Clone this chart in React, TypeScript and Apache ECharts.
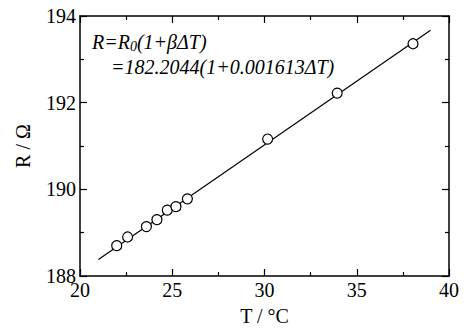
import React, { useEffect, useRef } from "react";
import * as echarts from "echarts";

const tempT = [21.99, 22.58, 23.6, 24.17, 24.73, 25.2, 25.82, 30.17, 33.94, 38.05];
const resistR = [188.7, 188.9, 189.14, 189.3, 189.52, 189.6, 189.78, 191.16, 192.22, 193.36];
const fitT = [21, 39];
const fitR = [188.38, 193.67];
const xTicks = { min: 20, max: 40, interval: 5 };
const yTicks = { min: 188, max: 194, interval: 2 };

const FONT = "Liberation Serif, serif";

export default function App() {
  const ref = useRef<HTMLDivElement>(null);
  useEffect(() => {
    document.body.style.margin = "0";
    if (!ref.current) return;
    const chart = echarts.init(ref.current, undefined, { renderer: "svg" });
    const axisLine = { show: true, lineStyle: { color: "#000", width: 1.5 } };
    const tick = { show: true, inside: true, length: 7, lineStyle: { color: "#000", width: 1.2 } };
    const minor = { show: true, splitNumber: 2, length: 4, lineStyle: { color: "#000", width: 1.2 } };
    const baseX = {
      type: "value" as const,
      min: xTicks.min,
      max: xTicks.max,
      interval: xTicks.interval,
      axisLine,
      axisTick: tick,
      minorTick: minor,
      splitLine: { show: false },
    };
    const baseY = {
      type: "value" as const,
      min: yTicks.min,
      max: yTicks.max,
      interval: yTicks.interval,
      axisLine,
      axisTick: tick,
      minorTick: minor,
      splitLine: { show: false },
    };
    chart.setOption({
      animation: false,
      grid: { left: 80, right: 15, top: 16, bottom: 51 },
      xAxis: [
        {
          ...baseX,
          position: "bottom",
          axisLabel: { color: "#000", fontFamily: FONT, fontSize: 20, margin: 4 },
          name: "T / °C",
          nameLocation: "middle",
          nameGap: 30,
          nameTextStyle: { color: "#000", fontFamily: FONT, fontSize: 20 },
        },
        { ...baseX, position: "top", axisLabel: { show: false } },
      ],
      yAxis: [
        {
          ...baseY,
          position: "left",
          axisLabel: { color: "#000", fontFamily: FONT, fontSize: 20, margin: 4 },
          name: "R / Ω",
          nameLocation: "middle",
          nameGap: 47,
          nameTextStyle: { color: "#000", fontFamily: FONT, fontSize: 20 },
        },
        { ...baseY, position: "right", axisLabel: { show: false } },
      ],
      series: [
        {
          type: "line",
          data: fitT.map((t, i) => [t, fitR[i]]),
          showSymbol: false,
          lineStyle: { color: "#000", width: 1.2 },
          z: 2,
        },
        {
          type: "scatter",
          data: tempT.map((t, i) => [t, resistR[i]]),
          symbol: "circle",
          symbolSize: 10,
          itemStyle: { color: "#fff", borderColor: "#000", borderWidth: 1.2, opacity: 1 },
          z: 3,
        },
      ],
      graphic: [
        {
          type: "text",
          left: 92,
          top: 31,
          style: {
            text: "{m|R=R}{s|0}{m|(1+βΔT)}",
            rich: {
              m: { fontFamily: FONT, fontSize: 20, fontStyle: "italic", fill: "#000", lineHeight: 22 },
              s: { fontFamily: FONT, fontSize: 14, fontStyle: "italic", fill: "#000", lineHeight: 22, verticalAlign: "bottom", padding: [8, 0, 0, 0] },
            },
          },
        },
        {
          type: "text",
          left: 111,
          top: 57,
          style: {
            text: "=182.2044(1+0.001613ΔT)",
            fontFamily: FONT,
            fontSize: 20,
            fontStyle: "italic",
            fill: "#000",
          },
        },
      ],
    });
    return () => chart.dispose();
  }, []);
  return <div ref={ref} style={{ width: 464, height: 331 }} />;
}
